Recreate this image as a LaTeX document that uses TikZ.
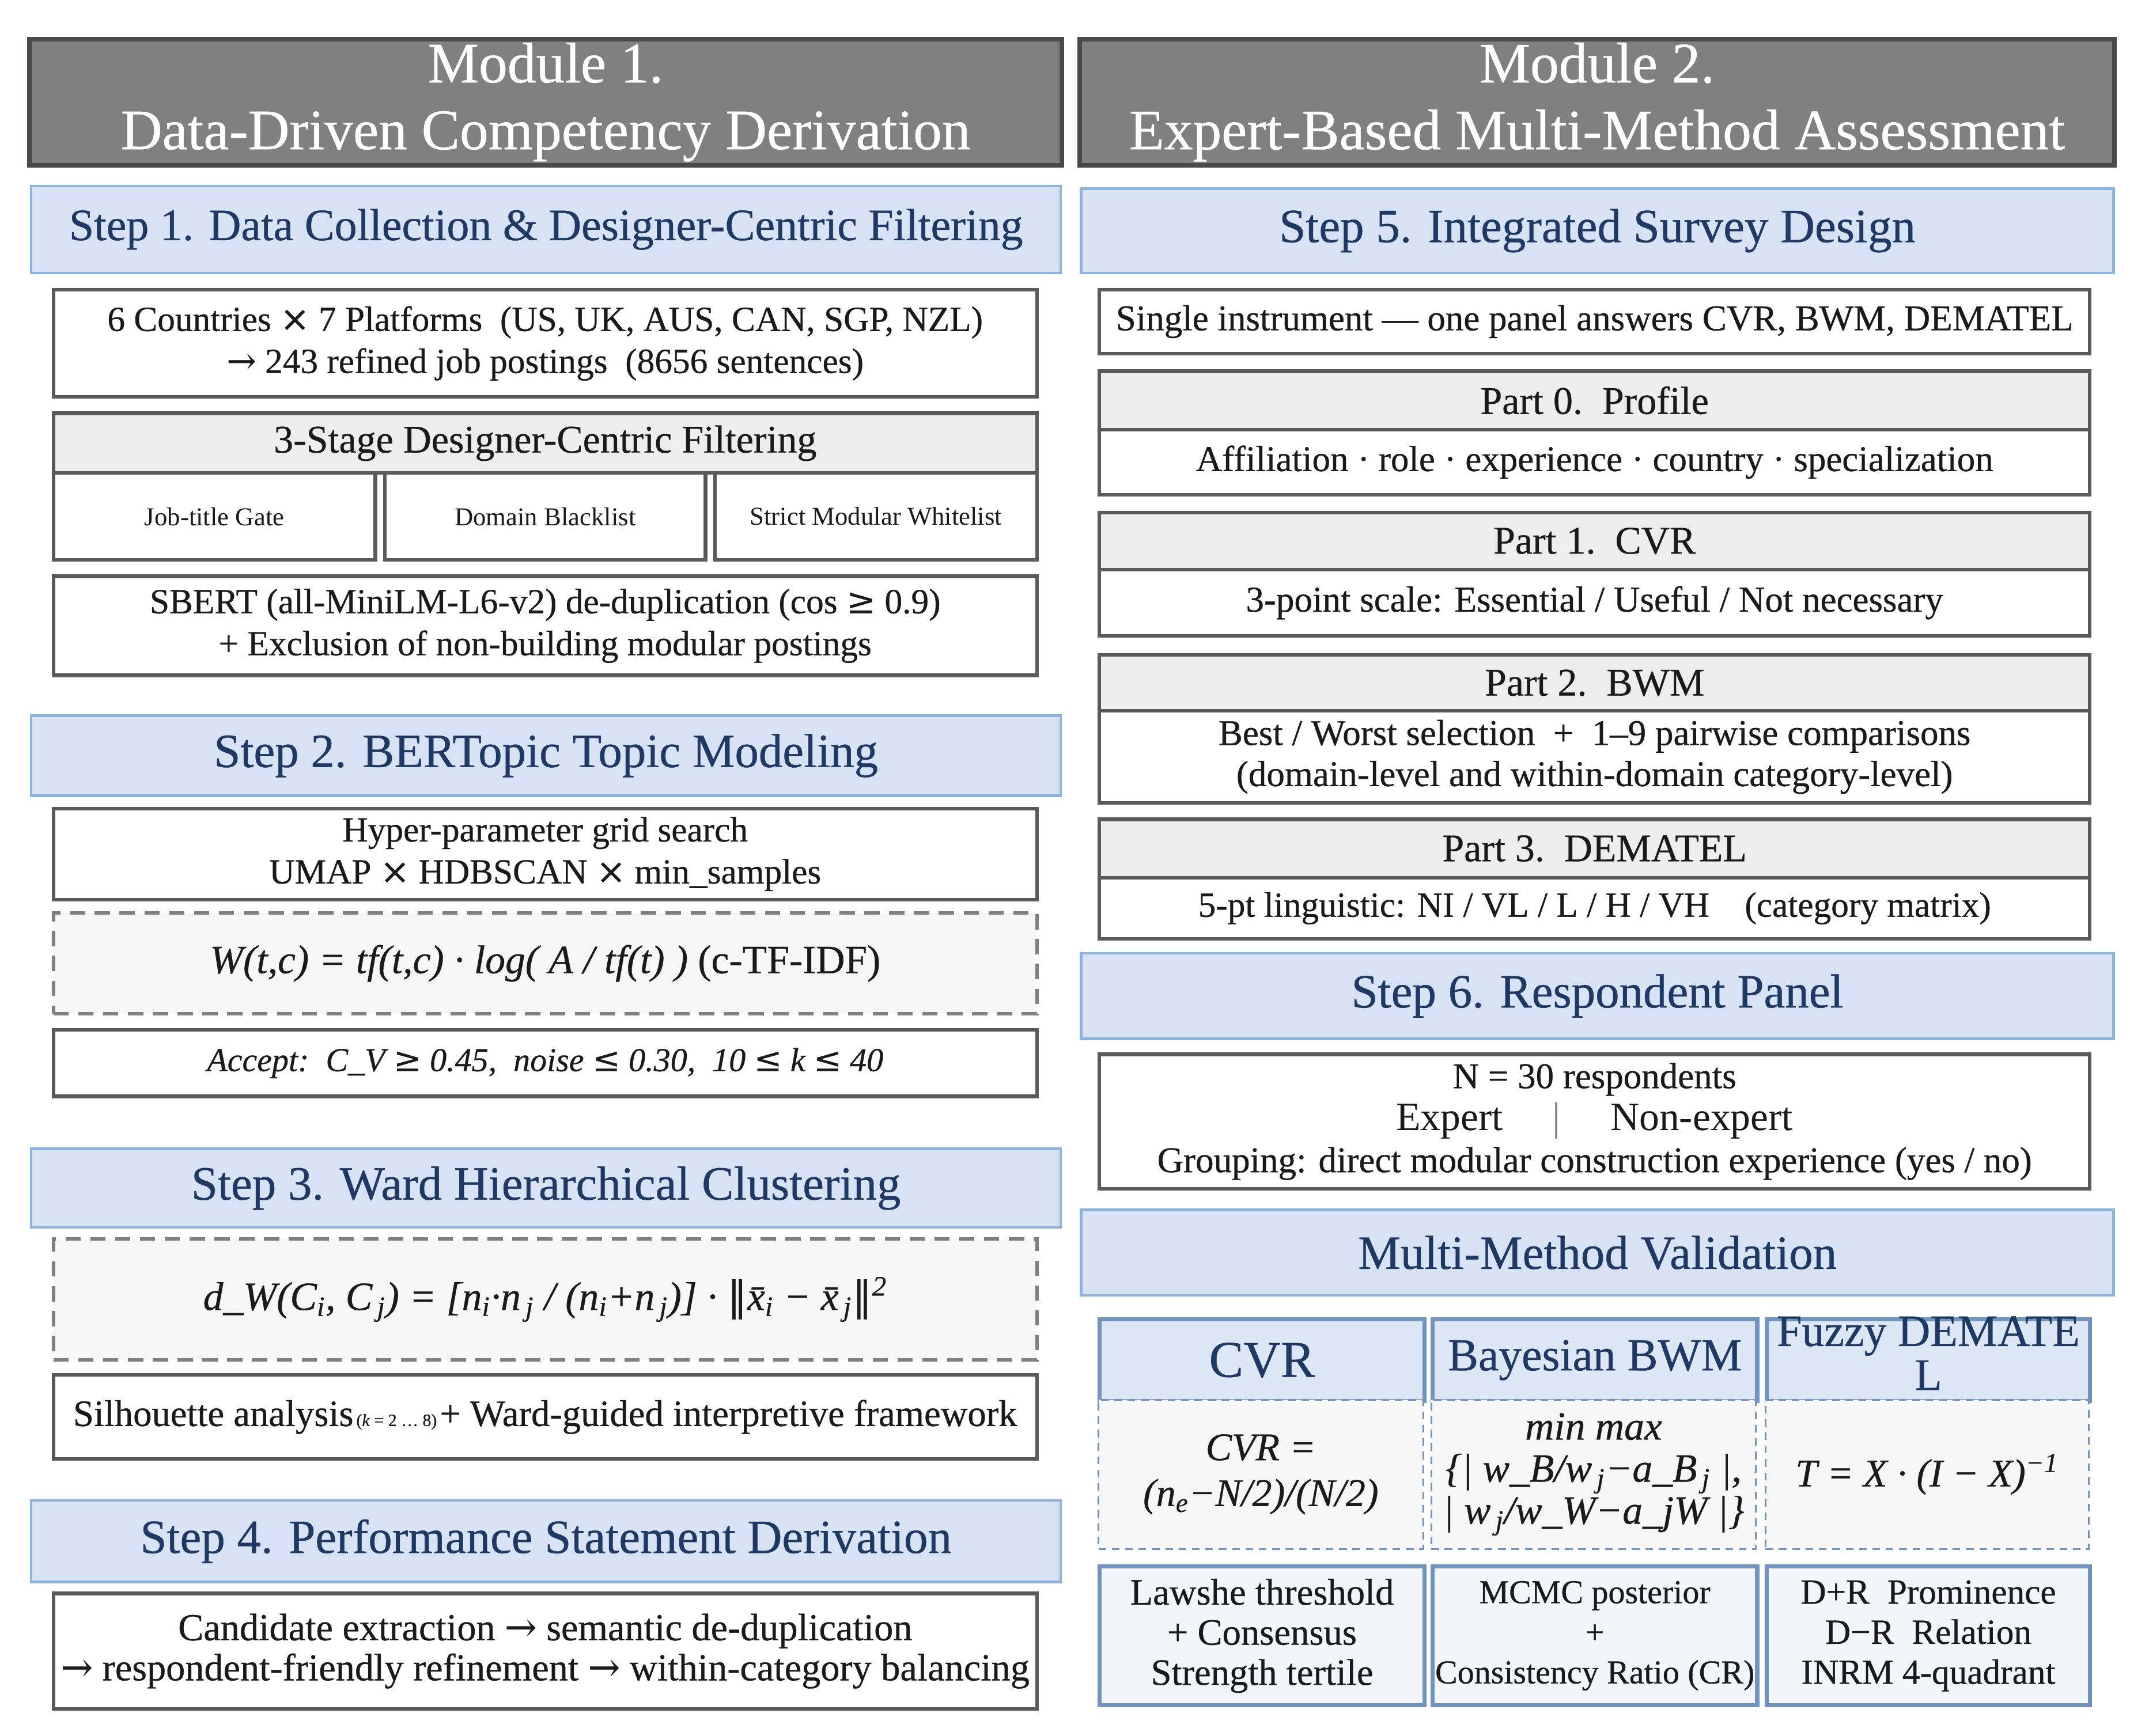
\documentclass[tikz,border=0pt]{standalone}
\usepackage{fontspec}
\setmainfont{Liberation Serif}[FakeBold=0.5]
\newfontfamily\lite{Liberation Serif}
\newfontfamily\djv{DejaVu Serif}[FakeBold=0.5]
\definecolor{modfill}{HTML}{808080}
\definecolor{moddraw}{HTML}{4A4A4A}
\definecolor{stepfill}{HTML}{D7E3F4}
\definecolor{stepdraw}{HTML}{8EB4DE}
\definecolor{navy}{HTML}{1F3864}
\definecolor{boxdraw}{HTML}{5A5A5A}
\definecolor{subfill}{HTML}{EDEDED}
\definecolor{dashfill}{HTML}{F6F6F6}
\definecolor{dashdraw}{HTML}{808080}
\definecolor{vdraw}{HTML}{7094BD}
\definecolor{vhfill}{HTML}{DCE6F4}
\definecolor{vbfill}{HTML}{F2F6FB}
\definecolor{txt}{HTML}{1A1A1A}
\newcommand\fs[2]{\fontsize{#1}{#2}\selectfont}
\newcommand\bx[6]{\node[#1, anchor=north west, inner sep=0pt, align=center,
  minimum width={(#4-#2)*0.25mm}, minimum height={(#5-#3)*0.25mm}] (#6) at (#2,#3)}
\tikzset{
  modbox/.style={draw=moddraw, fill=modfill, line width=2.4pt, text=white, font=\fs{30}{35}},
  stephead/.style={draw=stepdraw, fill=stepfill, line width=1.3pt, text=navy, font=\fs{25}{30}},
  plainbox/.style={draw=boxdraw, fill=white, line width=1.9pt, text=txt, font=\fs{18.5}{22}},
  subhead/.style={plainbox, fill=subfill, font=\fs{20.5}{24}},
  smallbox/.style={plainbox, font=\lite\fs{13.5}{15}},
  dashbox/.style={draw=dashdraw, fill=dashfill, dashed, dash pattern=on 8pt off 5pt, line width=1.9pt, text=txt, font=\fs{21}{25}},
  vhead/.style={draw=vdraw, fill=vhfill, line width=2.2pt, text=navy, font=\fs{25}{30}},
  vform/.style={draw=vdraw, fill=dashfill, dashed, dash pattern=on 4pt off 3pt, line width=0.9pt, text=txt, font=\fs{20.5}{24}},
  vbot/.style={draw=vdraw, fill=vbfill, line width=2.2pt, text=txt, font=\fs{18.5}{21}}
}
\begin{document}
\begin{tikzpicture}[x=0.25mm,y=-0.25mm]
\useasboundingbox (0,0) rectangle (1568,1278);
% ---------------- Module 1 ----------------
\bx{modbox}{20}{27}{780}{120}{m1} {Module 1.\\Data-Driven Competency Derivation};
\bx{stephead, font=\fs{23.5}{28}}{22}{136}{780}{200}{s1} {Step 1. Data Collection \& Designer-Centric Filtering};
\bx{plainbox}{38}{212}{762}{291}{b11} {6 Countries {\djv×} 7 Platforms\enspace(US, UK, AUS, CAN, SGP, NZL)\\{\djv→} 243 refined job postings\enspace(8656 sentences)};
\bx{subhead}{38}{303}{762}{347}{b12} {3-Stage Designer-Centric Filtering};
\bx{smallbox}{38}{347}{275}{411}{f1} {Job-title Gate};
\bx{smallbox}{282}{347}{518}{411}{f2} {Domain Blacklist};
\bx{smallbox}{525}{347}{762}{411}{f3} {Strict Modular Whitelist};
\bx{plainbox}{38}{423}{762}{496}{b13} {SBERT (all-MiniLM-L6-v2) de-duplication (cos {\djv≥} 0.9)\\+ Exclusion of non-building modular postings};
% Step 2
\bx{stephead}{22}{526}{780}{585}{s2} {Step 2. BERTopic Topic Modeling};
\bx{plainbox}{38}{594}{762}{661}{b21} {Hyper-parameter grid search\\UMAP {\djv×} HDBSCAN {\djv×} min\_samples};
\bx{dashbox}{38}{671}{762}{745}{b22} {{\itshape W(t,c) = tf(t,c) · log( A / tf(t) )} (c-TF-IDF)};
\bx{plainbox, font=\fs{17.5}{21}}{38}{757}{762}{806}{b23} {\itshape Accept:\enspace C\_V {\djv≥} 0.45,\enspace noise {\djv≤} 0.30,\enspace 10 {\djv≤} k {\djv≤} 40};
% Step 3
\bx{stephead}{22}{845}{780}{903}{s3} {Step 3. Ward Hierarchical Clustering};
\bx{dashbox}{38}{911}{762}{1000}{b31} {\itshape d\_W(C\textsubscript{i}, C\textsubscript{\,j}) = [n\textsubscript{i}·n\textsubscript{\,j} / (n\textsubscript{i}+n\textsubscript{\,j})] · {\upshape\djv‖}\={x}\textsubscript{i} − \={x}\textsubscript{\,j}{\upshape\djv‖}\textsuperscript{2}};
\bx{plainbox, font=\fs{19.5}{23}}{38}{1011}{762}{1073}{b32} {Silhouette analysis{\fs{9}{10}\,(\textit{k} = 2 … 8)\,}+ Ward-guided interpretive framework};
% Step 4
\bx{stephead}{22}{1104}{780}{1164}{s4} {Step 4. Performance Statement Derivation};
\bx{plainbox, font=\fs{20}{21}}{38}{1172}{762}{1257}{b41} {Candidate extraction {\djv→} semantic de-duplication\\{\djv→} respondent-friendly refinement {\djv→} within-category balancing};
% ---------------- Module 2 ----------------
\bx{modbox}{793}{27}{1555}{120}{m2} {Module 2.\\Expert-Based Multi-Method Assessment};
\bx{stephead}{795}{138}{1555}{200}{s5} {Step 5. Integrated Survey Design};
\bx{plainbox, font=\fs{19}{22}}{808}{212}{1537}{259}{b51} {Single instrument — one panel answers CVR, BWM, DEMATEL};
\bx{subhead}{808}{272}{1537}{315}{p0h} {Part 0.\enspace Profile};
\bx{plainbox, font=\fs{19}{22}}{808}{315}{1537}{363}{p0b} {Affiliation · role · experience · country · specialization};
\bx{subhead}{808}{376}{1537}{418}{p1h} {Part 1.\enspace CVR};
\bx{plainbox, font=\fs{19}{22}}{808}{418}{1537}{467}{p1b} {3-point scale: Essential / Useful / Not necessary};
\bx{subhead}{808}{481}{1537}{522}{p2h} {Part 2.\enspace BWM};
\bx{plainbox, font=\fs{19}{21.5}}{808}{522}{1537}{590}{p2b} {Best / Worst selection\enspace+\enspace 1–9 pairwise comparisons\\(domain-level and within-domain category-level)};
\bx{subhead}{808}{602}{1537}{645}{p3h} {Part 3.\enspace DEMATEL};
\bx{plainbox}{808}{645}{1537}{690}{p3b} {5-pt linguistic: NI / VL / L / H / VH\quad(category matrix)};
% Step 6
\bx{stephead}{795}{701}{1555}{764}{s6} {Step 6. Respondent Panel};
\bx{plainbox, font=\fs{19}{22}}{808}{775}{1537}{874}{b61} {N = 30 respondents\\{\lite\fs{21}{22}Expert\hspace{26pt}\textcolor{gray}{|}\hspace{26pt}Non-expert}\\Grouping: direct modular construction experience (yes / no)};
% Validation
\bx{stephead}{795}{890}{1555}{953}{s7} {Multi-Method Validation};
\bx{vhead, font=\fs{27}{30}}{808}{970}{1047}{1030}{v1h} {CVR};
\bx{vhead, font=\fs{24}{30}}{1053}{970}{1292}{1030}{v2h} {Bayesian BWM};
\bx{vhead, font=\fs{23.5}{24}}{1299}{970}{1537}{1030}{v3h} {\raisebox{0pt}[0pt][0pt]{\begin{tabular}{@{}c@{}}\\[-13pt]Fuzzy DEMATE\\[-1pt]L\end{tabular}}};
\bx{vform}{808}{1030}{1047}{1140}{v1f} {\itshape CVR =\\\itshape (n\textsubscript{e}−N/2)/(N/2)};
\bx{vform, font=\fs{21}{22}}{1053}{1030}{1292}{1140}{v2f} {\itshape min max\\\itshape \{| w\_B/w\textsubscript{\,j}−a\_B\textsubscript{\,j} |,\\\itshape | w\textsubscript{\,j}/w\_W−a\_jW |\}};
\bx{vform}{1299}{1030}{1537}{1140}{v3f} {\itshape T = X · (I − X)\textsuperscript{−1}};
\bx{vbot, font=\fs{19.5}{21}}{808}{1152}{1047}{1254}{v1b} {Lawshe threshold\\+ Consensus\\Strength tertile};
\bx{vbot, font=\fs{17.5}{21}}{1053}{1152}{1292}{1254}{v2b} {MCMC posterior\\+\\Consistency Ratio (CR)};
\bx{vbot}{1299}{1152}{1537}{1254}{v3b} {D+R\enspace Prominence\\D−R\enspace Relation\\INRM 4-quadrant};
\end{tikzpicture}
\end{document}
